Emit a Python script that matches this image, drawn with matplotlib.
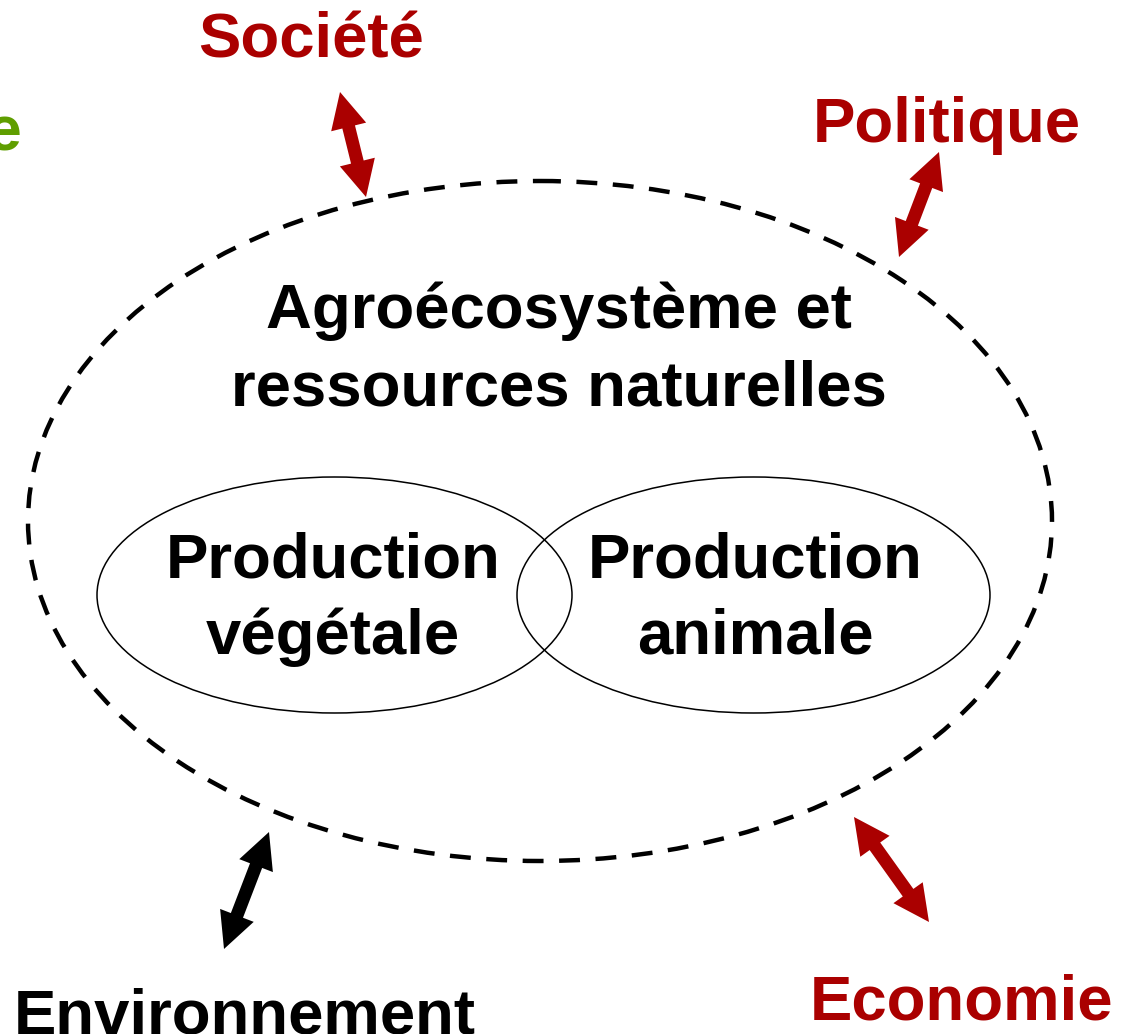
"""
Agroécosystème diagram: dashed system boundary, two overlapping production
ellipses and the outside spheres linked by double arrows.
"""

import numpy as np
import matplotlib.pyplot as plt
from matplotlib.patches import Ellipse, Polygon

RED = '#aa0000'
GREEN = '#5f9e00'
BLACK = '#000000'

# texts
centre_lines = ["Agroécosystème et", "ressources naturelles"]
left_lines = ["Production", "végétale"]
right_lines = ["Production", "animale"]
outer_labels = ["Société", "Politique", "Economie", "Environnement", "Culture"]
outer_colors = [RED, RED, RED, BLACK, GREEN]

FS = 45.7
FONT = dict(family='Liberation Sans', weight='bold', fontsize=FS)


def double_arrow(ax, p0, p1, color, shaft=13.0, head_w=36.0, head_l=36.0):
    """Fat double-headed arrow between tips p0 and p1 (pixel coords)."""
    p0 = np.asarray(p0, float)
    p1 = np.asarray(p1, float)
    d = p1 - p0
    u = d / np.linalg.norm(d)
    n = np.array([-u[1], u[0]])
    b0 = p0 + u * head_l
    b1 = p1 - u * head_l
    pts = [
        p0,
        b0 + n * head_w / 2, b0 + n * shaft / 2,
        b1 + n * shaft / 2, b1 + n * head_w / 2,
        p1,
        b1 - n * head_w / 2, b1 - n * shaft / 2,
        b0 - n * shaft / 2, b0 - n * head_w / 2,
    ]
    ax.add_patch(Polygon(pts, closed=True, facecolor=color, edgecolor='none'))


fig = plt.figure(figsize=(11.28, 10.34), dpi=100)
ax = fig.add_axes([0, 0, 1, 1])
ax.set_xlim(0, 1128)
ax.set_ylim(1034, 0)
ax.axis('off')

# system boundary
outer = Ellipse((540, 521), 1024, 680, fill=False, edgecolor='black',
                linewidth=3.2, linestyle=(0, (4.7, 3.5)))
ax.add_patch(outer)

# production ellipses
ax.add_patch(Ellipse((334.5, 595), 475, 236, fill=False, edgecolor='black', linewidth=1.1))
ax.add_patch(Ellipse((753.5, 595), 473, 236, fill=False, edgecolor='black', linewidth=1.1))

# centre text
for line, y in zip(centre_lines, [328, 405]):
    ax.text(559, y, line, ha='center', va='baseline', color='black', **FONT)
for line, y in zip(left_lines, [578, 654]):
    ax.text(333, y, line, ha='center', va='baseline', color='black', **FONT)
for line, y in zip(right_lines, [578, 654]):
    ax.text(755, y, line, ha='center', va='baseline', color='black', **FONT)

# outside labels (the reference crops some of them at the picture edge)
label_pos = [(311, 57, 'center'), (947, 142, 'center'), (962, 1019, 'center'),
             (245, 1033, 'center'), (22, 149, 'right')]
for lab, col, (x, y, ha) in zip(outer_labels, outer_colors, label_pos):
    ax.text(x, y, lab, ha=ha, va='baseline', color=col, **FONT)

# arrows
double_arrow(ax, (340, 92), (366, 197), RED)
double_arrow(ax, (939, 152), (899, 257), RED)
double_arrow(ax, (854, 817), (929, 922), RED)
double_arrow(ax, (269, 832), (224, 949), BLACK)

fig.savefig('out.png', dpi=100)
